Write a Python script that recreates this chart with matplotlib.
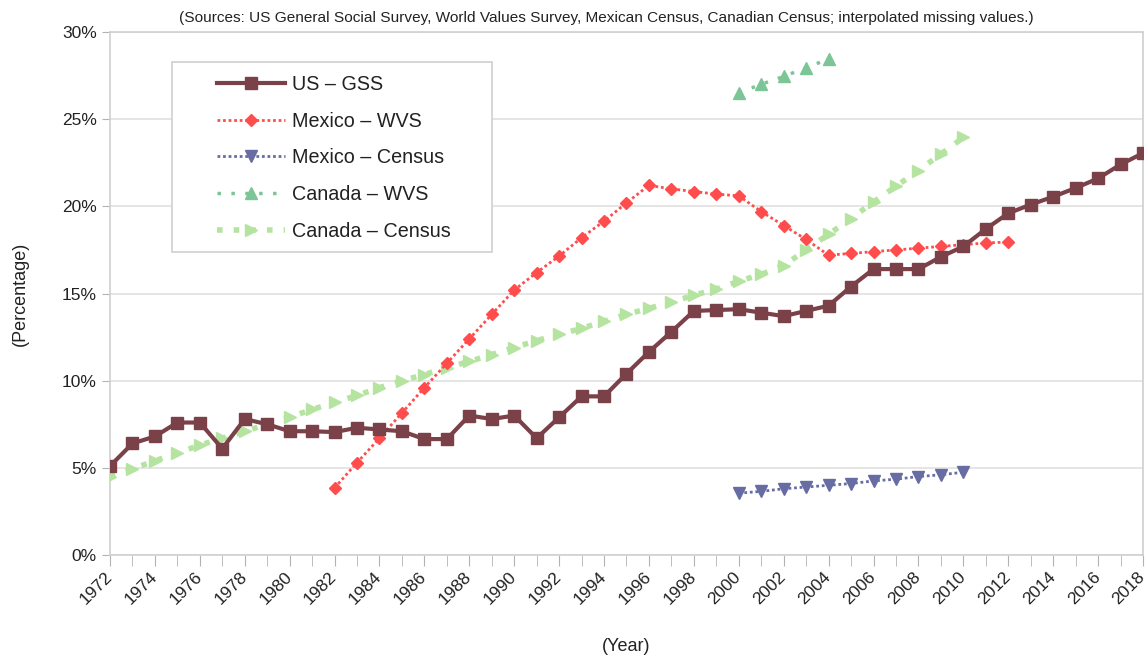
import numpy as np
import matplotlib.pyplot as plt
from matplotlib.patches import Rectangle
from matplotlib.transforms import ScaledTranslation
from matplotlib.ticker import MultipleLocator, FuncFormatter

plt.rcParams['font.family'] = ['Liberation Sans', 'DejaVu Sans']

# US - General Social Survey (1972-2018)
us_years = list(range(1972, 2019))
us_gss = [5.1, 6.4, 6.8, 7.6, 7.6, 6.1, 7.8, 7.5, 7.1, 7.1,
          7.05, 7.3, 7.2, 7.1, 6.65, 6.65, 8.0, 7.8, 8.0, 6.7,
          7.9, 9.1, 9.1, 10.4, 11.65, 12.8, 14.0, 14.05, 14.1, 13.9,
          13.7, 14.0, 14.3, 15.4, 16.4, 16.4, 16.4, 17.1, 17.7, 18.7,
          19.6, 20.1, 20.55, 21.05, 21.6, 22.4, 23.05]

# Mexico - World Values Survey (1982-2012)
mx_wvs_years = list(range(1982, 2013))
mx_wvs = [3.85, 5.3, 6.7, 8.15, 9.6, 11.0, 12.4, 13.8, 15.2, 16.2,
          17.15, 18.2, 19.15, 20.2, 21.2, 21.0, 20.85, 20.7, 20.6, 19.7,
          18.9, 18.1, 17.2, 17.3, 17.4, 17.5, 17.6, 17.7, 17.8, 17.9,
          17.95]

# Mexico - Census (2000-2010)
mx_census_years = list(range(2000, 2011))
mx_census = [3.55, 3.65, 3.8, 3.9, 4.0, 4.1, 4.25, 4.35, 4.5, 4.6, 4.75]

# Canada - World Values Survey (2000-2004)
ca_wvs_years = list(range(2000, 2005))
ca_wvs = [26.5, 27.0, 27.45, 27.95, 28.45]

# Canada - Census (1972-2010)
ca_census_years = list(range(1972, 2011))
ca_census = [4.5, 4.95, 5.4, 5.85, 6.3, 6.7, 7.1, 7.5, 7.9, 8.35,
             8.75, 9.15, 9.6, 10.0, 10.35, 10.75, 11.1, 11.5, 11.9, 12.3,
             12.65, 13.0, 13.4, 13.8, 14.15, 14.5, 14.9, 15.25, 15.7, 16.1,
             16.6, 17.5, 18.4, 19.3, 20.25, 21.15, 22.05, 23.0, 23.95]

fig = plt.figure(figsize=(11.47, 6.58), dpi=100)
ax = fig.add_axes([0.0959, 0.1565, 0.9006, 0.7949])

ax.plot(us_years, us_gss, color='#7b4149', lw=3, marker='s', ms=9,
        label='US – GSS', zorder=5)
ax.plot(mx_wvs_years, mx_wvs, color='#ff4d4d', lw=2, ls=(0, (1, 1)),
        marker='D', ms=6.5, label='Mexico – WVS', zorder=4)
ax.plot(mx_census_years, mx_census, color='#676ca3', lw=2, ls=(0, (1, 1)),
        marker='v', ms=8.5, label='Mexico – Census', zorder=4)
ax.plot(ca_wvs_years, ca_wvs, color='#7cc596', lw=2.5, ls=(0, (1, 3)),
        marker='^', ms=9, label='Canada – WVS', zorder=3)
ax.plot(ca_census_years, ca_census, color='#b5e4a1', lw=4, ls=(0, (1, 2)),
        marker='>', ms=9, label='Canada – Census', zorder=3)

ax.set_xlim(1972, 2018)
ax.set_ylim(0, 30)
ax.set_xticks(range(1972, 2019, 2))
ax.xaxis.set_minor_locator(MultipleLocator(1))
ax.yaxis.set_major_locator(MultipleLocator(5))
ax.yaxis.set_major_formatter(FuncFormatter(lambda v, p: f'{v:.0f}%'))
ax.tick_params(axis='both', which='both', color='#b3b3b3', labelsize=12.5,
               labelcolor='#222222')
ax.tick_params(axis='x', which='major', length=8, pad=2)
ax.tick_params(axis='x', which='minor', length=8)
ax.tick_params(axis='y', length=6)
shift = ScaledTranslation(-4 / 72, 0, fig.dpi_scale_trans)
for lab in ax.get_xticklabels():
    lab.set_rotation(45)
    lab.set_ha('right')
    lab.set_rotation_mode('anchor')
    lab.set_transform(lab.get_transform() + shift)

ax.grid(axis='y', color='#e0e0e0', lw=1.2)
ax.set_axisbelow(True)
for sp in ax.spines.values():
    sp.set_color('#d0d0d0')
    sp.set_linewidth(1.2)

ax.set_xlabel('(Year)', fontsize=13, labelpad=22, color='#222222')
ax.set_ylabel('(Percentage)', fontsize=13, labelpad=24, color='#222222')
fig.text(0.529, 0.972, '(Sources: US General Social Survey, World Values Survey, '
         'Mexican Census, Canadian Census; interpolated missing values.)',
         ha='center', va='center', fontsize=11.1, color='#222222')

# legend box drawn separately so the wide left margin can be matched
ax.add_patch(Rectangle((0.060, 0.579), 0.310, 0.364, transform=ax.transAxes,
                       facecolor='white', edgecolor='#d0d0d0', lw=1.2, zorder=6))
leg = ax.legend(loc='upper left', bbox_to_anchor=(0.1036, 0.918), fontsize=14.2,
                frameon=False, borderaxespad=0, borderpad=0, handlelength=3.45,
                labelspacing=0.9, handletextpad=0.35)
leg.set_zorder(7)
for t in leg.get_texts():
    t.set_color('#222222')

plt.savefig('out.png', dpi=100)
